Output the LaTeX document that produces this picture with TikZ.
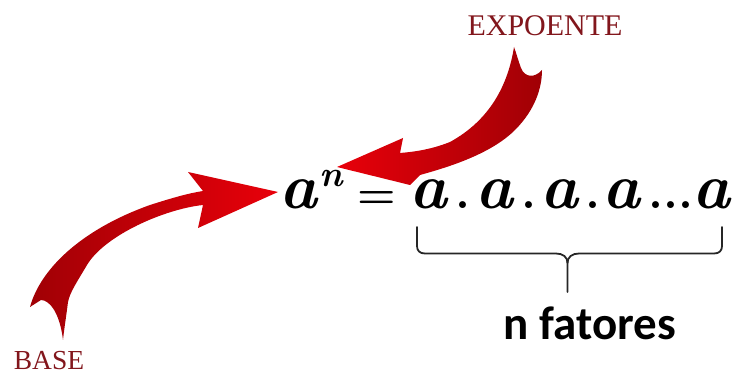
\documentclass[tikz,border=0pt]{standalone}
\usepackage{fontspec}
\newfontfamily\carl{Carlito}
\newfontfamily\lserif{Liberation Serif}
\definecolor{lblred}{RGB}{130,22,28}
\definecolor{headred}{RGB}{232,0,10}
\definecolor{tailred}{RGB}{160,0,5}
\begin{document}
\begin{tikzpicture}[x=1pt,y=-1pt,
  eqa/.style={font=\fontsize{64}{64}\selectfont\bfseries\itshape, anchor=base, inner sep=0pt},
  supn/.style={font=\fontsize{36}{36}\selectfont\bfseries\itshape, anchor=base, inner sep=0pt},
  eqop/.style={font=\fontsize{44}{44}\selectfont\bfseries, anchor=base, inner sep=0pt},
  eqdot/.style={font=\fontsize{48}{48}\selectfont\bfseries, anchor=base, inner sep=0pt},
  lbl/.style={text=lblred, inner sep=0pt},
  bracestyle/.style={draw=black!85, line width=1.8pt, line join=round, line cap=round}]
\useasboundingbox (0,0) rectangle (732,374);
% equation
\node[eqa] (a0) at (298,209) {a};
\node[supn] (n) at (331,187) {n};
\node[eqop] (eq) at (377,209) {=};
\node[eqa] (a1) at (428,209) {a};
\node[eqdot] (d1) at (463,209) {.};
\node[eqa] (a2) at (494,209) {a};
\node[eqdot] (d2) at (529,209) {.};
\node[eqa] (a3) at (559,209) {a};
\node[eqdot] (d3) at (593,209) {.};
\node[eqa] (a4) at (621,209) {a};
\node[eqdot] (d4) at (671,209) {...};
\node[eqa] (a5) at (711,209) {a};
% labels
\node[lbl, font=\lserif\fontsize{30}{30}\selectfont] (expo) at (545,26) {EXPOENTE};
\node[lbl, font=\lserif\fontsize{27.5}{27.5}\selectfont] (base) at (49,360.5) {BASE};
\node[font=\carl\bfseries\fontsize{47}{47}\selectfont, anchor=base, inner sep=0pt] (nf) at (590,340) {n fatores};
% brace
\draw[bracestyle] (417,227) -- (417,246) .. controls (417,251) and (420,253.5) .. (425,253.5)
  -- (556,253.5) .. controls (563,253.5) and (567.5,257) .. (567.5,263) -- (567.5,292);
\draw[bracestyle] (722,227) -- (722,246) .. controls (722,251) and (719,253.5) .. (714,253.5)
  -- (579,253.5) .. controls (572,253.5) and (567.5,257) .. (567.5,263);
% BASE arrow
\shade[left color=tailred, right color=headred]
  (30,307) .. controls (40,270) and (80,230) .. (150,205)
  .. controls (175,197) and (190,193) .. (203,191)
  -- (188,172) -- (278,192) -- (198,228) -- (203,205)
  .. controls (165,209) and (105,235) .. (87,265)
  .. controls (77,282) and (70,292) .. (68,302)
  .. controls (66,318) and (64,330) .. (63,340)
  .. controls (60,314) and (50,300) .. (41,300) -- cycle;
% EXPOENTE arrow
\shade[left color=headred, right color=tailred]
  (514,47) .. controls (508,85) and (490,120) .. (450,142)
  .. controls (430,150) and (412,152) .. (400,153)
  -- (403,138) -- (337,167) -- (410,185) -- (420,175)
  .. controls (445,168) and (490,155) .. (515,130)
  .. controls (535,110) and (542,88) .. (542,70)
  .. controls (535,78) and (525,78) .. (521,68)
  .. controls (518,60) and (516,52) .. (514,47) -- cycle;
\end{tikzpicture}
\end{document}
